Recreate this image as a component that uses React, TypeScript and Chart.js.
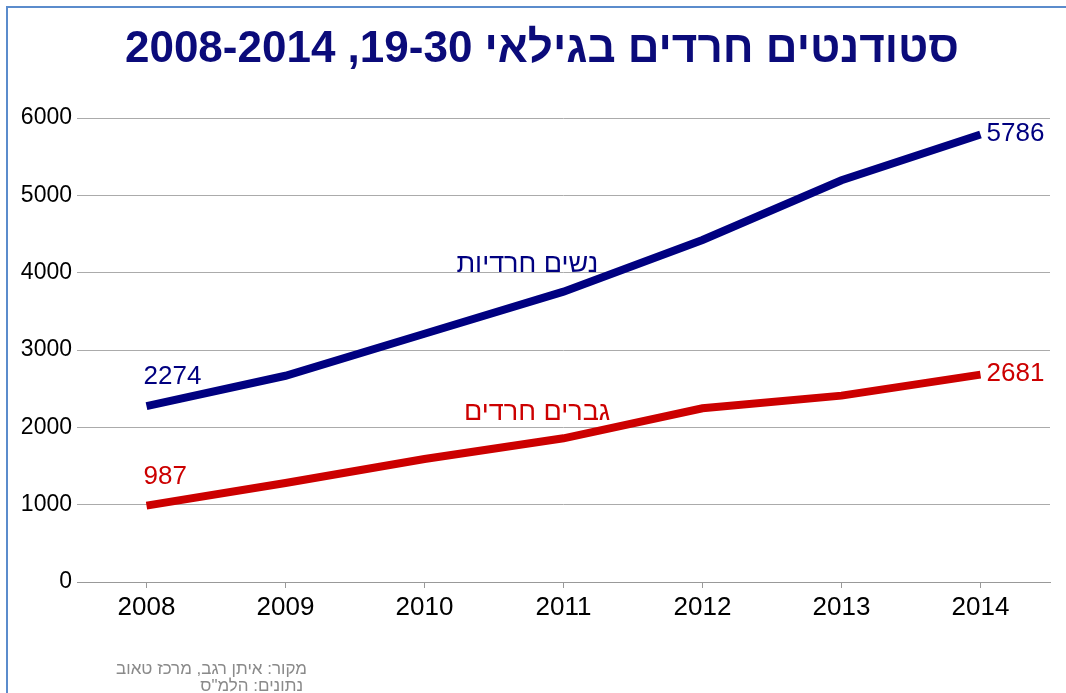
import { useEffect, useRef } from "react";
import { Chart, registerables } from "chart.js";

Chart.register(...registerables);

const years = ["2008", "2009", "2010", "2011", "2012", "2013", "2014"];
const women = [2274, 2667, 3210, 3754, 4423, 5195, 5786];
const men = [987, 1280, 1590, 1858, 2246, 2410, 2681];
const seriesNames = ["נשים חרדיות", "גברים חרדים"];
const seriesColors = ["#000080", "#cc0000"];
const titleText = "סטודנטים חרדים בגילאי 19-30, 2008-2014";
const sourceLines = ["מקור: איתן רגב, מרכז טאוב", 'נתונים: הלמ"ס'];

const FONT = '"Liberation Sans", Arial, sans-serif';

const decor = {
  id: "decor",
  beforeDraw(chart: any) {
    const ctx = chart.ctx;
    ctx.save();
    ctx.fillStyle = "#ffffff";
    ctx.fillRect(0, 0, chart.width, chart.height);
    ctx.strokeStyle = "#5b8ccc";
    ctx.lineWidth = 2;
    ctx.beginPath();
    ctx.moveTo(7, chart.height);
    ctx.lineTo(7, 7);
    ctx.lineTo(chart.width, 7);
    ctx.stroke();
    ctx.restore();
  },
  afterDatasetsDraw(chart: any) {
    const ctx = chart.ctx;
    const xs = chart.scales.x;
    const ys = chart.scales.y;
    ctx.save();
    // title
    ctx.direction = "rtl";
    ctx.font = "bold 44px " + FONT;
    ctx.fillStyle = "#0b0b7a";
    ctx.textAlign = "center";
    ctx.textBaseline = "middle";
    ctx.fillText(titleText, 542, 50);

    // series names
    ctx.font = "27px " + FONT;
    ctx.fillStyle = seriesColors[0];
    ctx.fillText(seriesNames[0], xs.getPixelForValue(2.74), ys.getPixelForValue(4100));
    ctx.fillStyle = seriesColors[1];
    ctx.fillText(seriesNames[1], xs.getPixelForValue(2.81), ys.getPixelForValue(2185));

    // value labels at first and last points
    ctx.direction = "ltr";
    ctx.font = "26px " + FONT;
    chart.data.datasets.forEach((ds: any, i: number) => {
      const meta = chart.getDatasetMeta(i);
      const first = meta.data[0];
      const last = meta.data[meta.data.length - 1];
      ctx.fillStyle = seriesColors[i];
      ctx.textAlign = "left";
      ctx.fillText(String(ds.data[0]), first.x - 3, first.y - 29);
      ctx.fillText(String(ds.data[ds.data.length - 1]), last.x + 6, last.y - 1);
    });

    // source
    ctx.direction = "rtl";
    ctx.font = "17px " + FONT;
    ctx.fillStyle = "#8a8a8a";
    ctx.textAlign = "right";
    ctx.fillText(sourceLines[0], 307, 669);
    ctx.fillText(sourceLines[1], 303, 686);
    ctx.restore();
  },
};

export default function App() {
  const ref = useRef<HTMLCanvasElement>(null);
  useEffect(() => {
    if (!ref.current) return;
    const chart = new Chart(ref.current, {
      type: "line",
      data: {
        labels: years,
        datasets: [
          {
            label: seriesNames[0],
            data: women,
            borderColor: seriesColors[0],
            backgroundColor: seriesColors[0],
            borderWidth: 8,
            pointRadius: 0,
            tension: 0,
            borderCapStyle: "butt",
          },
          {
            label: seriesNames[1],
            data: men,
            borderColor: seriesColors[1],
            backgroundColor: seriesColors[1],
            borderWidth: 8,
            pointRadius: 0,
            tension: 0,
            borderCapStyle: "butt",
          },
        ],
      },
      options: {
        animation: false,
        responsive: false,
        maintainAspectRatio: false,
        layout: { padding: { top: 118, right: 16, left: 0, bottom: 0 } },
        plugins: {
          legend: { display: false },
          title: { display: false },
          tooltip: { enabled: false },
        },
        scales: {
          x: {
            type: "category",
            offset: true,
            grid: {
              display: true,
              drawOnChartArea: false,
              drawTicks: true,
              tickLength: 6,
              color: "#999999",
              offset: false,
            },
            border: { display: true, color: "#999999", width: 1 },
            ticks: {
              font: { size: 26, family: FONT },
              color: "#000000",
              padding: 4,
              maxRotation: 0,
            },
            afterFit: (s: any) => {
              s.height = 111;
            },
          },
          y: {
            min: 0,
            max: 6000,
            ticks: {
              stepSize: 1000,
              font: { size: 23, family: FONT },
              color: "#000000",
              padding: 5,
              callback: (v: any) => String(v),
            },
            grid: { color: "#ababab", drawTicks: false, lineWidth: 1 },
            border: { display: false },
            afterFit: (s: any) => {
              s.width = 77;
            },
          },
        },
      },
      plugins: [decor],
    });
    return () => chart.destroy();
  }, []);
  return (
    <div style={{ position: "fixed", left: 0, top: 0, width: 1066, height: 693, overflow: "hidden", background: "#fff" }}>
      <canvas ref={ref} width={1066} height={693} style={{ display: "block", width: 1066, height: 693 }} />
    </div>
  );
}
